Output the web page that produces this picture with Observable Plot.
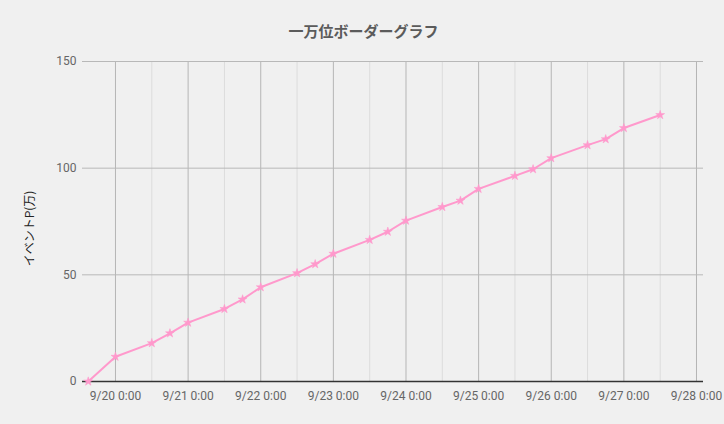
<!DOCTYPE html>
<html>
<head>
<meta charset="utf-8">
<script src="https://cdn.jsdelivr.net/npm/d3@7"></script>
<script src="https://cdn.jsdelivr.net/npm/@observablehq/plot@0.6"></script>
<style>
  html, body { margin: 0; padding: 0; background: #f0f0f0; }
  #wrap { width: 724px; height: 424px; background: #f0f0f0; overflow: hidden; }
  #title { height: 50px; box-sizing: border-box; padding-top: 23px; line-height: 16px;
    text-align: center; font-family: "Noto Sans CJK JP", sans-serif; font-weight: bold;
    font-size: 15px; color: #5b5b5b; padding-left: 3px; }
  svg { display: block; }
</style>
</head>
<body>
<div id="wrap">
  <div id="title">一万位ボーダーグラフ</div>
  <div id="chart"></div>
</div>
<script>
const titleText = "一万位ボーダーグラフ";
const yLabel = "イベントP(万)";
const times = [
  "2019-09-19T15:00Z", "2019-09-20T00:00Z", "2019-09-20T12:00Z", "2019-09-20T18:00Z",
  "2019-09-21T00:00Z", "2019-09-21T12:00Z", "2019-09-21T18:00Z",
  "2019-09-22T00:00Z", "2019-09-22T12:00Z", "2019-09-22T18:00Z",
  "2019-09-23T00:00Z", "2019-09-23T12:00Z", "2019-09-23T18:00Z",
  "2019-09-24T00:00Z", "2019-09-24T12:00Z", "2019-09-24T18:00Z",
  "2019-09-25T00:00Z", "2019-09-25T12:00Z", "2019-09-25T18:00Z",
  "2019-09-26T00:00Z", "2019-09-26T12:00Z", "2019-09-26T18:00Z",
  "2019-09-27T00:00Z", "2019-09-27T12:00Z"
];
const points = [
  0, 11.6, 18.0, 22.6,
  27.6, 34.0, 38.5,
  44.2, 50.8, 55.0,
  59.9, 66.4, 70.2,
  75.4, 81.8, 84.8,
  90.3, 96.4, 99.5,
  104.7, 110.8, 113.6,
  118.8, 124.9
];
const majorTicks = [
  "2019-09-20T00:00Z", "2019-09-21T00:00Z", "2019-09-22T00:00Z", "2019-09-23T00:00Z",
  "2019-09-24T00:00Z", "2019-09-25T00:00Z", "2019-09-26T00:00Z", "2019-09-27T00:00Z",
  "2019-09-28T00:00Z"
];
const minorTicks = [
  "2019-09-20T12:00Z", "2019-09-21T12:00Z", "2019-09-22T12:00Z", "2019-09-23T12:00Z",
  "2019-09-24T12:00Z", "2019-09-25T12:00Z", "2019-09-26T12:00Z", "2019-09-27T12:00Z"
];
const yTicks = [0, 50, 100, 150];
const xDomain = ["2019-09-19T13:06Z", "2019-09-28T02:19Z"];

const data = times.map((t, i) => ({date: new Date(t), value: points[i]}));
const major = majorTicks.map(t => new Date(t));
const minor = minorTicks.map(t => new Date(t));
const fmt = d3.utcFormat("%-m/%-d %-H:%M");

document.getElementById("title").textContent = titleText;

const pink = "#ff99cc";

const chart = Plot.plot({
  width: 724,
  height: 374,
  marginTop: 11,
  marginBottom: 43,
  marginLeft: 82,
  marginRight: 21,
  style: {background: "#f0f0f0", fontFamily: "Roboto, sans-serif", fontSize: "12px"},
  x: {type: "utc", domain: xDomain.map(t => new Date(t))},
  y: {domain: [0, 150]},
  marks: [
    Plot.ruleX(minor, {stroke: "#dcdcdc", strokeWidth: 1}),
    Plot.ruleX(major, {stroke: "#b5b5b5", strokeWidth: 1}),
    Plot.ruleY(yTicks.filter(d => d > 0), {stroke: "#b8b8b8", strokeWidth: 1}),
    Plot.ruleY([0], {stroke: "#333333", strokeWidth: 1.3}),
    Plot.axisX(major, {tickSize: 0, tickPadding: 10, tickFormat: fmt, fill: "#666", fontSize: 12, letterSpacing: -0.45}),
    Plot.axisY(yTicks, {tickSize: 0, tickPadding: 6, fill: "#666", fontSize: 12, label: null}),
    Plot.text([yLabel], {frameAnchor: "left", textAnchor: "middle", rotate: -90, dx: -52, dy: 7, fill: "#222",
      fontSize: 12, fontFamily: "Noto Sans CJK JP, sans-serif", text: d => d}),
    Plot.line(data, {x: "date", y: "value", stroke: pink, strokeWidth: 2}),
    Plot.dot(data, {x: "date", y: "value", symbol: "star", r: 2.8, fill: pink, stroke: pink, strokeWidth: 0.5})
  ]
});
document.getElementById("chart").appendChild(chart);
</script>
</body>
</html>
